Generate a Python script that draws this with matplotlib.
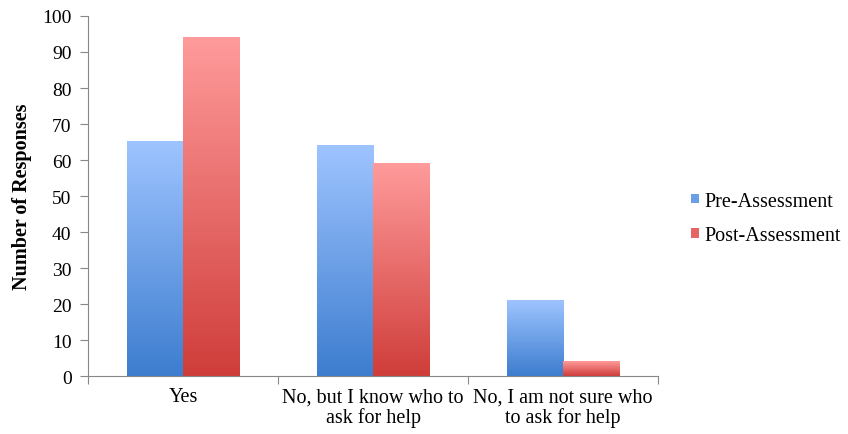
import numpy as np
import matplotlib.pyplot as plt
from matplotlib.colors import LinearSegmentedColormap
from matplotlib.patches import Patch

categories = ['Yes', 'No, but I know who to\nask for help', 'No, I am not sure who\nto ask for help']
pre = [65, 64, 21]
post = [94, 59, 4]
series = ['Pre-Assessment', 'Post-Assessment']

plt.rcParams['font.family'] = ['Liberation Serif', 'DejaVu Serif']

fig = plt.figure(figsize=(8.48, 4.35), dpi=100)
ax = fig.add_axes([0.104, 0.133, 0.672, 0.828])

x = np.arange(len(categories))
w = 0.295
blue = LinearSegmentedColormap.from_list('b', ['#3d7dcf', '#9ec4ff'])
red = LinearSegmentedColormap.from_list('r', ['#cf3d3a', '#ff9b9b'])

bars_pre = ax.bar(x - w / 2, pre, w, color='none', zorder=2)
bars_post = ax.bar(x + w / 2, post, w, color='none', zorder=2)

# each bar gets its own vertical gradient, dark at the base, light at the top
grad = np.linspace(0, 1, 256).reshape(-1, 1)
for bars, cmap in ((bars_pre, blue), (bars_post, red)):
    for b in bars:
        x0, y0 = b.get_x(), b.get_y()
        x1, y1 = x0 + b.get_width(), y0 + b.get_height()
        ax.imshow(grad, cmap=cmap, origin='lower', extent=(x0, x1, y0, y1),
                  aspect='auto', zorder=2, interpolation='bilinear')

ax.set_xlim(-0.5, len(categories) - 0.5)
ax.set_ylim(0, 100)
ax.set_yticks(range(0, 101, 10))
ax.set_xticks(np.arange(-0.5, len(categories), 1))
ax.set_xticklabels([])
ax.set_xticks(x, minor=True)
ax.set_xticklabels(categories, minor=True, fontsize=14.5, linespacing=1.05)
ax.tick_params(axis='x', which='minor', length=0, pad=8)
ax.tick_params(axis='x', which='major', length=6, color='#888888', direction='out')
ax.tick_params(axis='y', length=6, color='#888888', labelsize=14, pad=6)

for s in ('top', 'right'):
    ax.spines[s].set_visible(False)
for s in ('left', 'bottom'):
    ax.spines[s].set_color('#888888')

ax.set_ylabel('Number of Responses', fontsize=14.5, fontweight='bold', labelpad=7)

handles = [Patch(facecolor='#6a9fe6', edgecolor='none'),
           Patch(facecolor='#e56464', edgecolor='none')]
fig.legend(handles, series, loc='center left', bbox_to_anchor=(0.815, 0.496),
           frameon=False, fontsize=14.5, handlelength=0.38, handleheight=0.38,
           handletextpad=0.3, labelspacing=0.75, borderpad=0, borderaxespad=0)

fig.savefig('out.png', dpi=100)
